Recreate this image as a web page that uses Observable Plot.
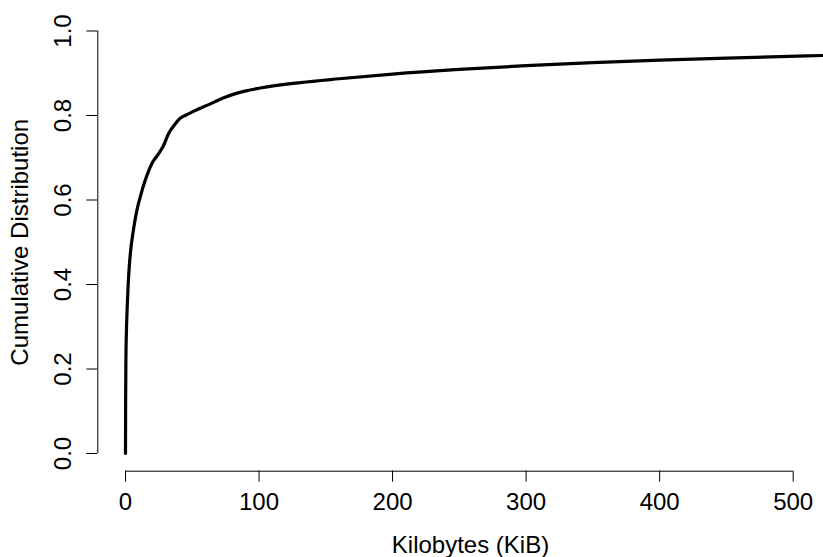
<!DOCTYPE html>
<html>
<head>
<meta charset="utf-8">
<script src="https://cdn.jsdelivr.net/npm/d3@7"></script>
<script src="https://cdn.jsdelivr.net/npm/@observablehq/plot@0.6"></script>
<style>
  html, body { margin: 0; padding: 0; background: white; }
</style>
</head>
<body>
<div id="chart"></div>
<script>
// Data (cumulative distribution of sizes in KiB)
const kib = [0, 0.1, 0.3, 0.7, 1.2, 2, 3, 4.2, 5.5, 7, 8.5, 11, 14.7, 19.7, 24.7, 28.5, 32.2, 37.2, 41.2, 44.6, 51, 55, 61, 73.6, 83.6, 101, 131, 160, 200, 250, 300, 350, 400, 450, 522.7];
const cdf = [0, 0.12, 0.22, 0.29, 0.34, 0.40, 0.45, 0.49, 0.52, 0.55, 0.575, 0.607, 0.646, 0.686, 0.709, 0.729, 0.757, 0.780, 0.794, 0.80, 0.810, 0.816, 0.824, 0.842, 0.853, 0.865, 0.878, 0.887, 0.898, 0.909, 0.918, 0.925, 0.931, 0.936, 0.942];
const xTicks = [0, 100, 200, 300, 400, 500];
const yTicks = [0, 0.2, 0.4, 0.6, 0.8, 1.0];
const xLabel = "Kilobytes (KiB)";
const yLabel = "Cumulative Distribution";

const points = kib.map((k, i) => ({x: k, y: cdf[i]}));

const chart = Plot.plot({
  width: 823,
  height: 557,
  marginLeft: 125,
  marginRight: 0,
  marginTop: 30.5,
  marginBottom: 104,
  style: {fontFamily: "'Liberation Sans', Arial, Helvetica, sans-serif", fontSize: "24px", background: "white", color: "black", overflow: "visible"},
  x: {domain: [0, 522.7], axis: null},
  y: {domain: [0, 1], axis: null},
  marks: [
    // x axis
    Plot.ruleY([0], {x1: xTicks[0], x2: xTicks[xTicks.length - 1], dy: 17.7, stroke: "black", strokeWidth: 1}),
    Plot.axisX({ticks: xTicks, tickSize: 11, dy: 17.7, fill: "none", label: null, stroke: "black"}),
    Plot.text(xTicks, {x: d => d, text: d => String(d), frameAnchor: "bottom", lineAnchor: "middle", dy: 49, fill: "black"}),
    Plot.text([xLabel], {frameAnchor: "bottom", dx: -4, dy: 92, lineAnchor: "middle", fill: "black"}),
    // y axis
    Plot.ruleX([0], {y1: yTicks[0], y2: yTicks[yTicks.length - 1], dx: -27.7, stroke: "black", strokeWidth: 1}),
    Plot.axisY({ticks: yTicks, tickSize: 11, dx: -27.7, fill: "none", label: null, stroke: "black"}),
    Plot.text(yTicks, {y: d => d, text: d => d.toFixed(1), frameAnchor: "left", dx: -62, rotate: -90, lineAnchor: "middle", textAnchor: "middle", fill: "black"}),
    Plot.text([yLabel], {frameAnchor: "left", dx: -105, rotate: -90, lineAnchor: "middle", textAnchor: "middle", fill: "black"}),
    // curve
    Plot.line(points, {x: "x", y: "y", curve: "monotone-x", stroke: "black", strokeWidth: 3.2, strokeLinejoin: "round", strokeLinecap: "round"})
  ]
});
document.getElementById("chart").appendChild(chart);
</script>
</body>
</html>
